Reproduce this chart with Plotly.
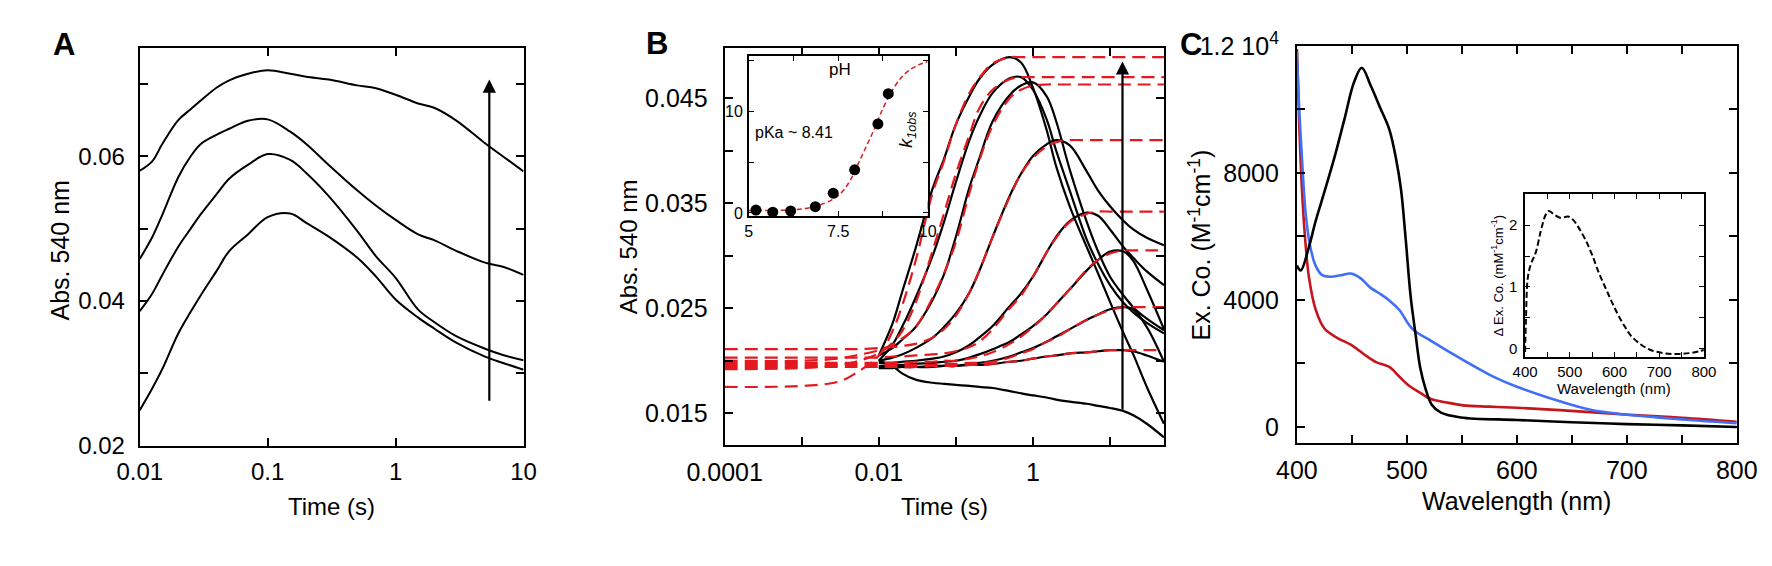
import math
import plotly.graph_objects as go

W, H = 1772, 566

# ---------------- Panel A data ----------------
a_time = [0.01, 0.0125, 0.015, 0.02, 0.025, 0.03, 0.04, 0.05, 0.07, 0.1, 0.15, 0.2,
          0.3, 0.5, 0.7, 1, 1.5, 2, 3, 5, 7, 10]
a_curve1 = [0.0580, 0.0593, 0.0617, 0.0650, 0.0665, 0.0677, 0.0695, 0.0705, 0.0714, 0.0719, 0.0714,
            0.0710, 0.0706, 0.0698, 0.0694, 0.0685, 0.0673, 0.0667, 0.0649, 0.0618, 0.0599, 0.0579]
a_curve2 = [0.0458, 0.0488, 0.0519, 0.0571, 0.0600, 0.0617, 0.0630, 0.0638, 0.0649, 0.0651, 0.0634,
            0.0617, 0.0588, 0.0553, 0.0532, 0.0512, 0.0492, 0.0484, 0.0469, 0.0453, 0.0447, 0.0436]
a_curve3 = [0.0386, 0.0410, 0.0436, 0.0475, 0.0500, 0.0520, 0.0548, 0.0569, 0.0588, 0.0603, 0.0595,
            0.0577, 0.0545, 0.0497, 0.0462, 0.0432, 0.0388, 0.0371, 0.0351, 0.0334, 0.0325, 0.0318]
a_curve4 = [0.0249, 0.0279, 0.0306, 0.0355, 0.0385, 0.0408, 0.0442, 0.0469, 0.0492, 0.0516, 0.0521,
            0.0508, 0.0489, 0.0460, 0.0434, 0.0402, 0.0377, 0.0362, 0.0342, 0.0323, 0.0314, 0.0305]
a_xticks = [0.01, 0.1, 1, 10]
a_xlabels = ["0.01", "0.1", "1", "10"]
a_yticks = [0.02, 0.04, 0.06]
a_ylabels = ["0.02", "0.04", "0.06"]
a_yminor = [0.03, 0.05, 0.07]
a_arrow_t = 5.4
a_arrow_y = [0.026, 0.0706]

# ---------------- Panel B data ----------------
b_time = [0.01, 0.015, 0.02, 0.03, 0.05, 0.07, 0.1, 0.15, 0.2, 0.3, 0.5, 0.7, 1, 1.5, 2, 3,
          5, 7, 10, 15, 20, 30, 50]
b_trace1 = [0.0205, 0.0235, 0.0265, 0.0307, 0.0364, 0.0392, 0.0425, 0.0452, 0.0468, 0.0482, 0.0489, 0.0484,
            0.0460, 0.0420, 0.0385, 0.0347, 0.0308, 0.0283, 0.0256, 0.0226, 0.0206, 0.0175, 0.0140]
b_trace2 = [0.0200, 0.0215, 0.0232, 0.0260, 0.0300, 0.0332, 0.0370, 0.0410, 0.0432, 0.0455, 0.0469, 0.0470,
            0.0458, 0.0430, 0.0400, 0.0362, 0.0315, 0.0292, 0.0272, 0.0255, 0.0246, 0.0236, 0.0226]
b_trace3 = [0.0205, 0.0212, 0.0220, 0.0232, 0.0258, 0.0282, 0.0318, 0.0365, 0.0392, 0.0428, 0.0453, 0.0462,
            0.0465, 0.0452, 0.0428, 0.0382, 0.0332, 0.0304, 0.0280, 0.0262, 0.0251, 0.0240, 0.0229]
b_trace4 = [0.0200, 0.0203, 0.0206, 0.0212, 0.0222, 0.0232, 0.0245, 0.0265, 0.0285, 0.0318, 0.0357, 0.0378,
            0.0395, 0.0406, 0.0410, 0.0405, 0.0380, 0.0362, 0.0347, 0.0333, 0.0325, 0.0317, 0.0310]
b_trace5 = [0.0198, 0.0198, 0.0199, 0.0200, 0.0202, 0.0204, 0.0208, 0.0215, 0.0222, 0.0233, 0.0252, 0.0264,
            0.0280, 0.0303, 0.0318, 0.0333, 0.0341, 0.0338, 0.0325, 0.0308, 0.0298, 0.0285, 0.0272]
b_trace6 = [0.0195, 0.0196, 0.0196, 0.0197, 0.0198, 0.0199, 0.0200, 0.0203, 0.0206, 0.0211, 0.0218, 0.0225,
            0.0233, 0.0244, 0.0254, 0.0268, 0.0286, 0.0296, 0.0304, 0.0304, 0.0295, 0.0268, 0.0230]
b_trace7 = [0.0193, 0.0193, 0.0194, 0.0194, 0.0194, 0.0195, 0.0195, 0.0197, 0.0198, 0.0200, 0.0204, 0.0208,
            0.0212, 0.0218, 0.0223, 0.0230, 0.0239, 0.0244, 0.0249, 0.0251, 0.0249, 0.0232, 0.0199]
b_trace8 = [0.0194, 0.0194, 0.0194, 0.0194, 0.0195, 0.0195, 0.0195, 0.0196, 0.0196, 0.0197, 0.0199, 0.0200,
            0.0202, 0.0204, 0.0205, 0.0207, 0.0208, 0.0209, 0.0210, 0.0210, 0.0209, 0.0205, 0.0199]
b_trace9 = [0.0200, 0.0195, 0.0188, 0.0182, 0.0179, 0.0178, 0.0177, 0.0176, 0.0175, 0.0174, 0.0171, 0.0169,
            0.0167, 0.0165, 0.0163, 0.0161, 0.0159, 0.0157, 0.0155, 0.0152, 0.0148, 0.0140, 0.0127]

b_fit_time = [0.0001, 0.001, 0.003, 0.005, 0.01, 0.015, 0.02, 0.03, 0.05, 0.07, 0.1, 0.15, 0.2, 0.3,
              0.5, 0.7, 1, 1.5, 2, 3, 5, 7, 10, 15, 20, 30, 50]
b_fit1 = [0.0175, 0.0176, 0.0180, 0.0188, 0.0205, 0.0228, 0.0252, 0.0295, 0.0360, 0.0390, 0.0425, 0.0455,
          0.0469, 0.0483, 0.0489, 0.0489, 0.0489, 0.0489, 0.0489, 0.0489, 0.0489, 0.0489, 0.0489, 0.0489,
          0.0489, 0.0489, 0.0489]
b_fit2 = [0.0192, 0.0193, 0.0196, 0.0199, 0.0207, 0.0217, 0.0228, 0.0255, 0.0305, 0.0340, 0.0378, 0.0415,
          0.0440, 0.0458, 0.0468, 0.0470, 0.0470, 0.0470, 0.0470, 0.0470, 0.0470, 0.0470, 0.0470, 0.0470,
          0.0470, 0.0470, 0.0470]
b_fit3 = [0.0200, 0.0200, 0.0202, 0.0205, 0.0210, 0.0215, 0.0221, 0.0232, 0.0260, 0.0283, 0.0313, 0.0360,
          0.0390, 0.0424, 0.0450, 0.0458, 0.0462, 0.0463, 0.0463, 0.0463, 0.0463, 0.0463, 0.0463, 0.0463,
          0.0463, 0.0463, 0.0463]
b_fit4 = [0.0211, 0.0211, 0.0211, 0.0211, 0.0212, 0.0213, 0.0214, 0.0216, 0.0222, 0.0230, 0.0243, 0.0265,
          0.0285, 0.0318, 0.0356, 0.0378, 0.0393, 0.0404, 0.0408, 0.0410, 0.0410, 0.0410, 0.0410, 0.0410,
          0.0410, 0.0410, 0.0410]
b_fit5 = [0.0203, 0.0203, 0.0203, 0.0203, 0.0203, 0.0204, 0.0204, 0.0205, 0.0206, 0.0207, 0.0209, 0.0213,
          0.0218, 0.0230, 0.0250, 0.0262, 0.0280, 0.0303, 0.0317, 0.0332, 0.0340, 0.0342, 0.0342, 0.0342,
          0.0342, 0.0342, 0.0342]
b_fit6 = [0.0198, 0.0198, 0.0198, 0.0198, 0.0198, 0.0198, 0.0198, 0.0199, 0.0199, 0.0200, 0.0200, 0.0202,
          0.0204, 0.0208, 0.0216, 0.0223, 0.0232, 0.0244, 0.0254, 0.0268, 0.0287, 0.0296, 0.0302, 0.0305,
          0.0305, 0.0305, 0.0305]
b_fit7 = [0.0196, 0.0196, 0.0196, 0.0196, 0.0196, 0.0196, 0.0196, 0.0196, 0.0196, 0.0197, 0.0197, 0.0198,
          0.0198, 0.0199, 0.0203, 0.0207, 0.0211, 0.0218, 0.0222, 0.0230, 0.0239, 0.0244, 0.0248, 0.0251,
          0.0251, 0.0251, 0.0251]
b_fit8 = [0.0194, 0.0194, 0.0194, 0.0194, 0.0194, 0.0194, 0.0194, 0.0194, 0.0195, 0.0195, 0.0195, 0.0196,
          0.0196, 0.0197, 0.0199, 0.0200, 0.0202, 0.0204, 0.0205, 0.0207, 0.0208, 0.0209, 0.0210, 0.0210,
          0.0210, 0.0210, 0.0210]
b_xticks = [0.0001, 0.01, 1]
b_xlabels = ["0.0001", "0.01", "1"]
b_xminor = [0.001, 0.1, 10]
b_yticks = [0.015, 0.025, 0.035, 0.045]
b_ylabels = ["0.015", "0.025", "0.035", "0.045"]
b_yminor = [0.02, 0.03, 0.04]
b_arrow_t = 14.5
b_arrow_y = [0.0152, 0.0485]

# inset of B
inset_ph = [5.2, 5.67, 6.17, 6.86, 7.36, 7.96, 8.61, 8.9]
inset_k = [0.28, 0.08, 0.2, 0.62, 1.95, 4.25, 8.78, 11.76]
inset_ph_fit = [5.0, 5.5, 6.0, 6.5, 7.0, 7.5, 7.8, 8.0, 8.25, 8.5, 8.75, 9.0, 9.25, 9.5, 9.75, 10.0]
inset_k_fit = [0.25, 0.25, 0.27, 0.4, 0.8, 1.7, 3.0, 4.4, 6.3, 8.2, 10.3, 12.0, 13.3, 14.1, 14.6, 14.9]
inset_xticks = [5, 7.5, 10]
inset_xlabels = ["5", "7.5", "10"]
inset_xminor = [6.25, 8.75]
inset_yticks = [0, 10]
inset_ylabels = ["0", "10"]
inset_yminor = [5, 15]

# ---------------- Panel C data ----------------
c_wl_black = [400, 403.5, 411, 417, 425.6, 434, 443, 452, 459, 467, 475.6, 484, 490, 494.7, 499,
              503.5, 508, 512, 517, 522.6, 531, 549, 600, 650, 700, 750, 800]
c_black = [5080, 4930, 5680, 6480, 7470, 8470, 9660, 10860, 11310, 10760, 10060, 9370, 8470, 7470, 5880,
           4085, 2890, 1890, 1200, 700, 450, 300, 220, 150, 90, 50, 0]
c_wl_red = [400, 402, 405, 408, 411, 417, 425, 437, 449, 461, 472, 484, 493, 502, 511, 522, 535, 551,
            575, 600, 639, 698, 750, 800]
c_red = [11900, 9600, 7200, 5700, 4700, 3700, 3100, 2800, 2590, 2290, 2040, 1890, 1590, 1295, 1100, 880,
         780, 680, 640, 605, 530, 394, 290, 165]
c_wl_blue = [400, 402, 405, 408, 412, 417, 423, 431, 440, 449, 458, 467, 476, 484, 493, 505, 522, 549,
             580, 600, 639, 668, 698, 727, 760, 800]
c_blue = [11800, 10100, 8200, 6700, 5700, 5080, 4780, 4730, 4780, 4830, 4680, 4380, 4185, 3985, 3690,
          3090, 2710, 2150, 1560, 1265, 807, 532, 394, 303, 210, 120]
c_xticks = [400, 500, 600, 700, 800]
c_xlabels = ["400", "500", "600", "700", "800"]
c_xminor = [450, 550, 650, 750]
c_yticks = [0, 4000, 8000, 12000]
c_ylabels = ["0", "4000", "8000", "1.2 10<sup>4</sup>"]
c_yminor = [2000, 6000, 10000]

# inset of C
c_inset_wl = [400, 402, 406, 413, 424, 435, 445.6, 452.8, 463.6, 478, 489, 496, 507, 521.5, 536, 550,
              565, 579, 594, 608, 623, 637, 659, 680.6, 709.6, 738.5, 767.5, 789, 800]
c_inset_d = [-0.05, 0.47, 1.14, 1.37, 1.56, 1.9, 2.16, 2.23, 2.18, 2.12, 2.13, 2.14, 2.09, 1.94, 1.75,
             1.52, 1.23, 1.0, 0.76, 0.55, 0.36, 0.21, 0.07, -0.02, -0.07, -0.085, -0.07, -0.04, -0.02]
c_inset_xticks = [400, 500, 600, 700, 800]
c_inset_xlabels = ["400", "500", "600", "700", "800"]
c_inset_xminor = [450, 550, 650, 750]
c_inset_yticks = [0, 1, 2]
c_inset_ylabels = ["0", "1", "2"]
c_inset_yminor = [0.5, 1.5]

# ---------------- Styling helpers ----------------
FONT = "Liberation Sans, Arial, Helvetica, sans-serif"


def dx(x0, x1):
    return [x0 / W, x1 / W]


def dy(y0, y1):
    return [1 - y1 / H, 1 - y0 / H]


def px(x, y):
    return x / W, 1 - y / H


def axis_style(size, minor_vals, lw=2, tlen=8, twidth=1.5, standoff=6):
    return dict(showline=True, linecolor="black", linewidth=lw, mirror="allticks",
                ticks="inside", ticklen=tlen, tickwidth=twidth, tickcolor="black",
                minor=dict(tickvals=minor_vals, ticks="inside", ticklen=tlen, tickwidth=twidth,
                           tickcolor="black", showgrid=False),
                showgrid=False, zeroline=False, ticklabelstandoff=standoff,
                tickfont=dict(family=FONT, size=size, color="black"))


fig = go.Figure()

BLACK = "black"
RED_FIT = "#e3191f"
RED_C = "#c4161c"
BLUE_C = "#3f6ff5"

# Panel A traces
for ys in [a_curve1, a_curve2, a_curve3, a_curve4]:
    fig.add_trace(go.Scatter(x=a_time, y=ys, mode="lines", line=dict(color=BLACK, width=2, shape="spline"),
                             xaxis="x", yaxis="y", showlegend=False))

# Panel B traces
for ys in [b_trace1, b_trace2, b_trace3, b_trace4, b_trace5, b_trace6, b_trace7, b_trace8, b_trace9]:
    fig.add_trace(go.Scatter(x=b_time, y=ys, mode="lines", line=dict(color=BLACK, width=2.2, shape="spline"),
                             xaxis="x2", yaxis="y2", showlegend=False))
for ys in [b_fit1, b_fit2, b_fit3, b_fit4, b_fit5, b_fit6, b_fit7, b_fit8]:
    fig.add_trace(go.Scatter(x=b_fit_time, y=ys, mode="lines",
                             line=dict(color=RED_FIT, width=2.2, dash="13px,7px", shape="spline"),
                             xaxis="x2", yaxis="y2", showlegend=False))

# B inset
fig.add_trace(go.Scatter(x=inset_ph_fit, y=inset_k_fit, mode="lines",
                         line=dict(color="#d42020", width=1.5, dash="5px,3px", shape="spline"),
                         xaxis="x3", yaxis="y3", showlegend=False))
fig.add_trace(go.Scatter(x=inset_ph, y=inset_k, mode="markers",
                         marker=dict(color=BLACK, size=11),
                         xaxis="x3", yaxis="y3", showlegend=False))

# Panel C
fig.add_trace(go.Scatter(x=c_wl_red, y=c_red, mode="lines", line=dict(color=RED_C, width=2.6, shape="spline"),
                         xaxis="x4", yaxis="y4", showlegend=False))
fig.add_trace(go.Scatter(x=c_wl_blue, y=c_blue, mode="lines", line=dict(color=BLUE_C, width=2.6, shape="spline"),
                         xaxis="x4", yaxis="y4", showlegend=False))
fig.add_trace(go.Scatter(x=c_wl_black, y=c_black, mode="lines", line=dict(color=BLACK, width=2.6, shape="spline"),
                         xaxis="x4", yaxis="y4", showlegend=False))
# C inset
fig.add_trace(go.Scatter(x=c_inset_wl, y=c_inset_d, mode="lines",
                         line=dict(color=BLACK, width=2, dash="6px,3px", shape="spline"),
                         xaxis="x5", yaxis="y5", showlegend=False))

layout = dict(
    width=W, height=H, margin=dict(l=0, r=0, t=0, b=0),
    paper_bgcolor="white", plot_bgcolor="white", showlegend=False,
    font=dict(family=FONT, color="black"),
    xaxis=dict(domain=dx(97, 494), type="log", range=[-2, 1], tickvals=a_xticks, ticktext=a_xlabels,
               anchor="y", **axis_style(24, a_xticks, standoff=4)),
    yaxis=dict(domain=dy(23, 444), range=[0.02, 0.075], tickvals=a_yticks, ticktext=a_ylabels,
               anchor="x", **axis_style(24, a_yminor, standoff=8)),
    xaxis2=dict(domain=dx(702, 1157), type="log", range=[-4, 1.706], tickvals=b_xticks, ticktext=b_xlabels,
                anchor="y2", **axis_style(25, b_xminor, standoff=4)),
    yaxis2=dict(domain=dy(23, 443), range=[0.012, 0.0498], tickvals=b_yticks, ticktext=b_ylabels,
                anchor="x2", **axis_style(25, b_yminor, standoff=10)),
    xaxis3=dict(domain=dx(727, 912), range=[5, 10], tickvals=inset_xticks, ticktext=inset_xlabels,
                anchor="y3", **axis_style(16, inset_xminor, lw=1.5, tlen=5, twidth=1.2, standoff=0)),
    yaxis3=dict(domain=dy(32, 201), range=[-0.3, 15.45], tickvals=inset_yticks, ticktext=inset_ylabels,
                anchor="x3", **axis_style(16, inset_yminor, lw=1.5, tlen=5, twidth=1.2, standoff=1)),
    xaxis4=dict(domain=dx(1294, 1749), range=[400, 800], tickvals=c_xticks, ticktext=c_xlabels,
                anchor="y4", **axis_style(25, c_xminor, standoff=4)),
    yaxis4=dict(domain=dy(21, 441), range=[-500, 12000], tickvals=c_yticks, ticktext=c_ylabels,
                anchor="x4", **axis_style(25, c_yminor, standoff=11)),
    xaxis5=dict(domain=dx(1530, 1715), range=[400, 800], tickvals=c_inset_xticks, ticktext=c_inset_xlabels,
                anchor="y5", **axis_style(15, c_inset_xminor, lw=1.5, tlen=5, twidth=1.2, standoff=0)),
    yaxis5=dict(domain=dy(178, 350), range=[-0.13, 2.5], tickvals=c_inset_yticks, ticktext=c_inset_ylabels,
                anchor="x5", **axis_style(15, c_inset_yminor, lw=1.5, tlen=5, twidth=1.2, standoff=3)),
)
fig.update_layout(**layout)

ann = []


def text_px(x, y, s, size, angle=0, bold=False, xanchor="center", yanchor="middle"):
    px_, py_ = px(x, y)
    ann.append(dict(x=px_, y=py_, xref="paper", yref="paper", text=("<b>%s</b>" % s) if bold else s,
                    showarrow=False, textangle=angle, xanchor=xanchor, yanchor=yanchor,
                    font=dict(family=FONT, size=size, color="black")))


# Panel letters
text_px(19, 20, "A", 31, bold=True)
text_px(632, 18, "B", 31, bold=True)
text_px(1198, 20, "C", 31, bold=True, xanchor="right")

# Axis titles
text_px(14, 238, "Abs. 540 nm", 25, angle=-90)
text_px(295, 508, "Time (s)", 24)
text_px(602, 233, "Abs. 540 nm", 24, angle=-90)
text_px(929, 508, "Time (s)", 24)
text_px(1194, 232, "Ex. Co. (M<sup>-1</sup>cm<sup>-1</sup>)", 25, angle=-90)
text_px(1521, 502, "Wavelength (nm)", 25)
text_px(1622, 384, "Wavelength (nm)", 15)
text_px(1501, 264, "Δ Ex. Co. (mM<sup>-1</sup>cm<sup>-1</sup>)", 13, angle=-90)

# Inset B texts (data coordinates)
ann.append(dict(x=7.55, y=14.1, xref="x3", yref="y3", text="pH", showarrow=False,
                font=dict(family=FONT, size=17, color="black")))
ann.append(dict(x=5.12, y=7.9, xref="x3", yref="y3", text="pKa ~ 8.41", showarrow=False, xanchor="left",
                font=dict(family=FONT, size=16, color="black")))
ann.append(dict(x=9.45, y=8.3, xref="x3", yref="y3", text="<i>k</i><sub><i>1obs</i></sub>", showarrow=False,
                textangle=-90, font=dict(family=FONT, size=18, color="black")))

# Arrows
ann.append(dict(x=math.log10(a_arrow_t), y=a_arrow_y[1], ax=math.log10(a_arrow_t), ay=a_arrow_y[0],
                xref="x", yref="y", axref="x", ayref="y", text="", showarrow=True,
                arrowhead=2, arrowsize=1.2, arrowwidth=2.2, arrowcolor="black"))
ann.append(dict(x=math.log10(b_arrow_t), y=b_arrow_y[1], ax=math.log10(b_arrow_t), ay=b_arrow_y[0],
                xref="x2", yref="y2", axref="x2", ayref="y2", text="", showarrow=True,
                arrowhead=2, arrowsize=1.2, arrowwidth=2.2, arrowcolor="black"))

fig.update_layout(annotations=ann)

fig.write_html("out.html")
